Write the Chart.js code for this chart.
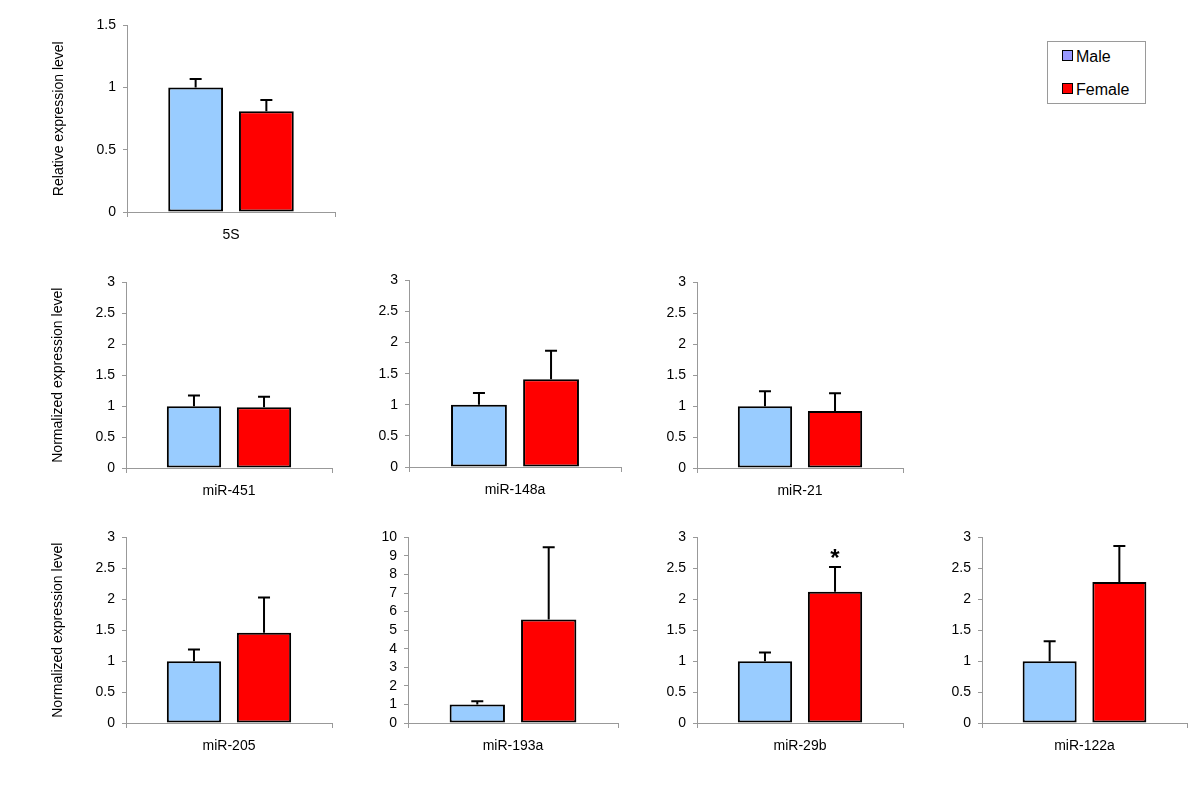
<!DOCTYPE html>
<html>
<head>
<meta charset="utf-8">
<script src="https://cdn.jsdelivr.net/npm/chart.js@4/dist/chart.umd.min.js"></script>
<style>
  body { margin: 0; background: #fff; font-family: "Liberation Sans", Arial, sans-serif; }
  #wrap { position: relative; width: 1200px; height: 788px; overflow: hidden; }
  #wrap canvas { position: absolute; }
  #legend { position: absolute; left: 1047px; top: 41px; width: 97px; height: 61px; border: 1px solid #9a9a9a; }
  .item { position: absolute; left: 14px; font-size: 16px; line-height: 18px; color: #000; }
  .sw { display: inline-block; width: 9px; height: 9px; border: 1.5px solid #000; margin-right: 3px; vertical-align: 1px; }
</style>
</head>
<body>
<div id="wrap">
  <div id="legend">
    <div class="item" style="top:6px"><span class="sw" style="background:#9999ff"></span>Male</div>
    <div class="item" style="top:39px"><span class="sw" style="background:#ff0000"></span>Female</div>
  </div>
</div>
<script>
// one panel per miRNA, Male vs Female
const categories = ['5S', 'miR-451', 'miR-148a', 'miR-21', 'miR-205', 'miR-193a', 'miR-29b', 'miR-122a'];
const maleValues = [1, 1, 1, 1, 1, 1, 1, 1];
const maleErrors = [0.07, 0.17, 0.19, 0.24, 0.19, 0.17, 0.14, 0.32];
const femaleValues = [0.81, 0.98, 1.41, 0.92, 1.46, 5.57, 2.12, 2.28];
const femaleErrors = [0.09, 0.17, 0.46, 0.29, 0.57, 3.9, 0.40, 0.58];
const yMax = [1.5, 3, 3, 3, 3, 10, 3, 3];
const yStep = [0.5, 0.5, 0.5, 0.5, 0.5, 1, 0.5, 0.5];
const significant = [false, false, false, false, false, false, true, false];
const yTitles = ['Relative expression level', 'Normalized expression level', '', '', 'Normalized expression level', '', '', ''];

// where each plot area sits on the page
const panelBoxes = [
  { axisX: 127, right: 335, top: 23.5, zero: 211.7 },
  { axisX: 126, right: 332, top: 280.7, zero: 467.3 },
  { axisX: 409, right: 621, top: 278.5, zero: 466.3 },
  { axisX: 697, right: 903, top: 280.7, zero: 467.3 },
  { axisX: 126, right: 332, top: 536, zero: 723.3 },
  { axisX: 408, right: 618, top: 536, zero: 723.3 },
  { axisX: 697, right: 903, top: 536, zero: 723.3 },
  { axisX: 982, right: 1187, top: 536, zero: 723.3 }
];

const errorBars = {
  id: 'errorBars',
  afterDatasetsDraw(chart) {
    const ctx = chart.ctx;
    const yScale = chart.scales.y;
    ctx.save();
    ctx.strokeStyle = '#000';
    ctx.lineWidth = 2;
    chart.data.datasets.forEach((ds, d) => {
      const bar = chart.getDatasetMeta(d).data[0];
      const top = yScale.getPixelForValue(ds.data[0] + ds.errors[0]);
      ctx.beginPath();
      ctx.moveTo(bar.x, bar.y);
      ctx.lineTo(bar.x, top);
      ctx.moveTo(bar.x - 6, top);
      ctx.lineTo(bar.x + 6, top);
      ctx.stroke();
      if (ds.star) {
        ctx.fillStyle = '#000';
        ctx.font = 'bold 24px "Liberation Sans", Arial, sans-serif';
        ctx.textAlign = 'center';
        ctx.textBaseline = 'middle';
        ctx.fillText('*', bar.x, top - 8);
      }
    });
    ctx.restore();
  }
};

const wrap = document.getElementById('wrap');
const tickFont = { family: '"Liberation Sans", Arial', size: 14 };

categories.forEach((name, i) => {
  const p = panelBoxes[i];
  const yW = yTitles[i] ? 80 : 50;
  const padTop = 14, padRight = 12, xH = 40;
  const plotW = p.right - p.axisX;
  const plotH = p.zero - p.top;

  const canvas = document.createElement('canvas');
  canvas.width = Math.round(yW + plotW + padRight);
  canvas.height = Math.round(padTop + plotH + xH);
  canvas.style.left = (p.axisX - yW) + 'px';
  canvas.style.top = (p.top - padTop) + 'px';
  wrap.appendChild(canvas);

  new Chart(canvas, {
    type: 'bar',
    data: {
      labels: [name],
      datasets: [
        {
          label: 'Male',
          data: [maleValues[i]],
          errors: [maleErrors[i]],
          backgroundColor: '#99ccff',
          borderColor: '#000',
          borderWidth: 2,
          borderSkipped: false
        },
        {
          label: 'Female',
          data: [femaleValues[i]],
          errors: [femaleErrors[i]],
          star: significant[i],
          backgroundColor: '#ff0000',
          borderColor: '#000',
          borderWidth: 2,
          borderSkipped: false
        }
      ]
    },
    options: {
      responsive: false,
      animation: false,
      layout: { padding: { top: padTop, right: padRight, left: 0, bottom: 0 } },
      datasets: { bar: { categoryPercentage: 0.68, barPercentage: 0.775 } },
      plugins: { legend: { display: false }, tooltip: { enabled: false } },
      scales: {
        x: {
          grid: { drawOnChartArea: false, color: '#999', tickLength: 5 },
          border: { color: '#999' },
          ticks: { color: '#000', font: tickFont, padding: 10 },
          afterFit: (s) => { s.height = xH; }
        },
        y: {
          min: 0,
          max: yMax[i],
          grid: { drawOnChartArea: false, color: '#999', tickLength: 4 },
          border: { color: '#999' },
          ticks: {
            stepSize: yStep[i],
            autoSkip: false,
            color: '#000',
            font: tickFont,
            padding: 7,
            callback: (v) => String(Math.round(v * 100) / 100)
          },
          title: {
            display: !!yTitles[i],
            text: yTitles[i],
            color: '#000',
            font: tickFont
          },
          afterFit: (s) => { s.width = yW; }
        }
      }
    },
    plugins: [errorBars]
  });
});
</script>
</body>
</html>
